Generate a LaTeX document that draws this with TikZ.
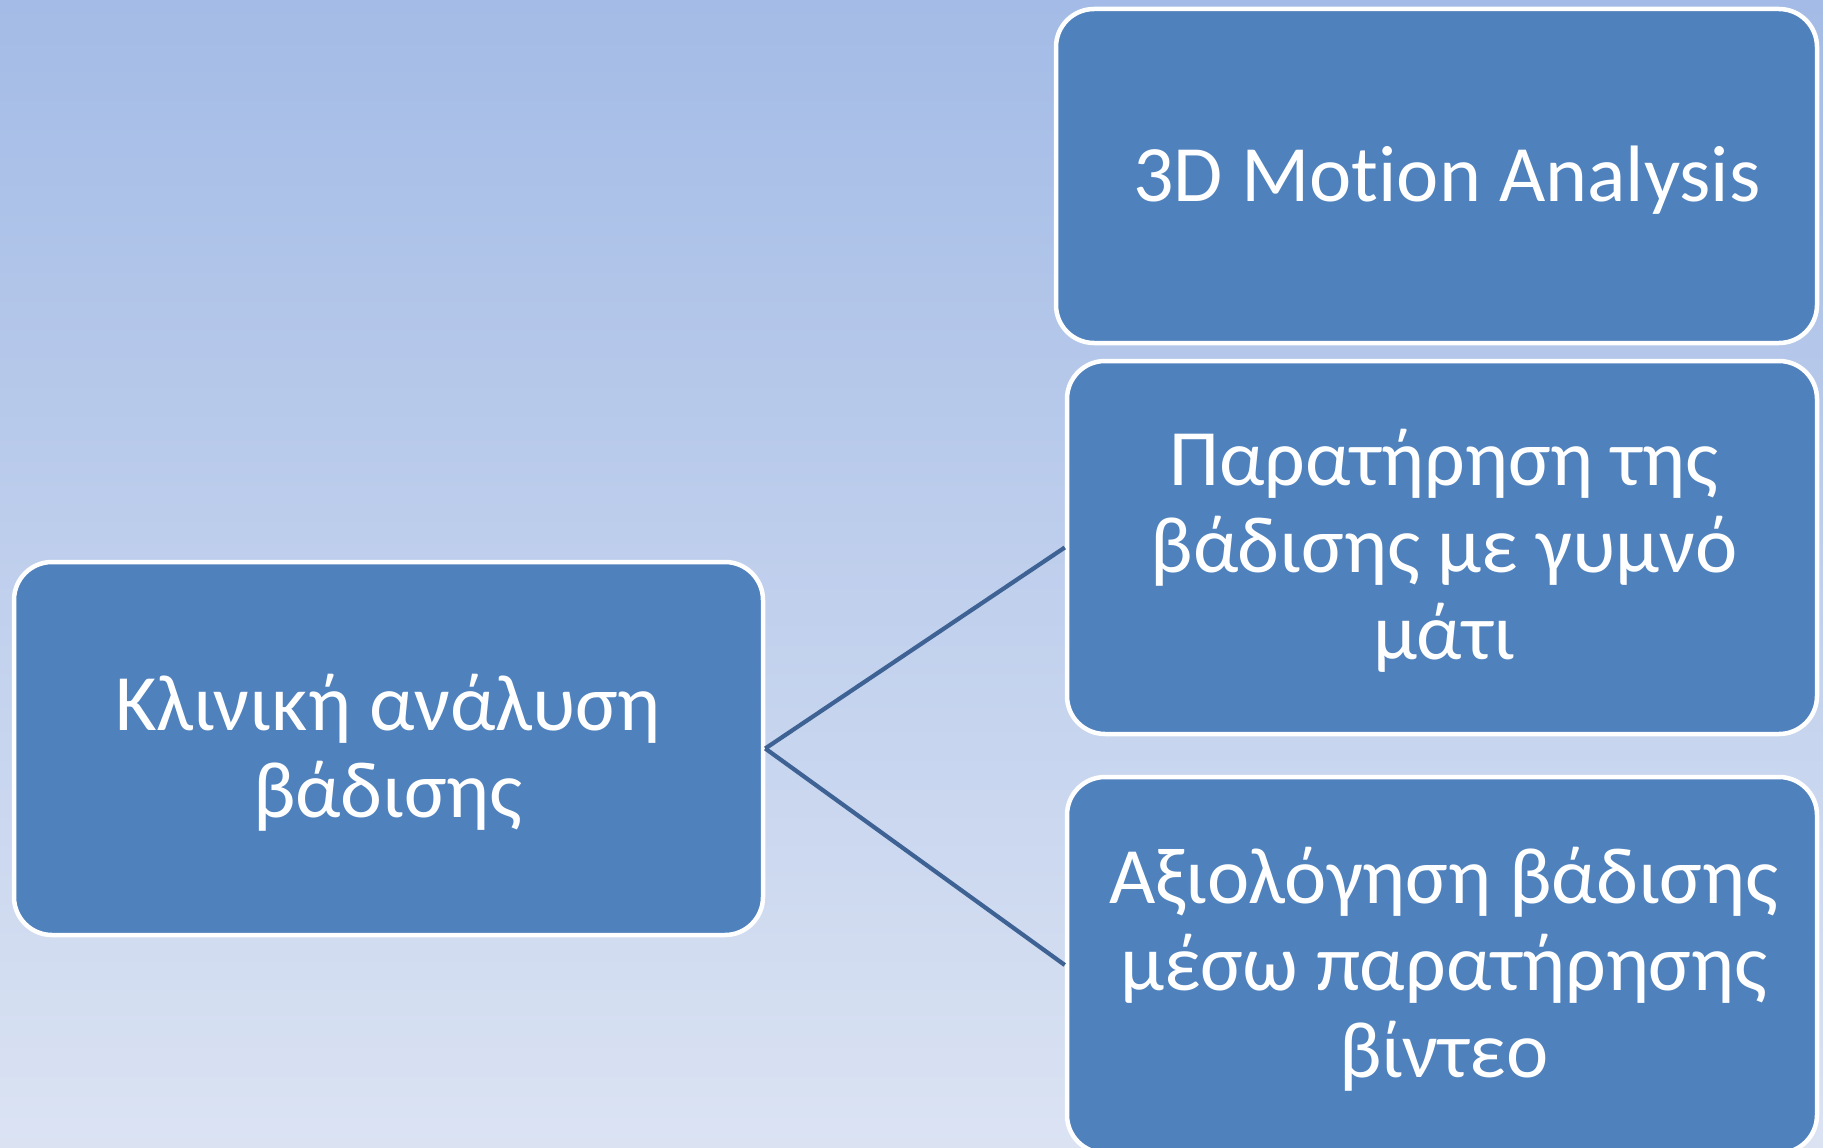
\documentclass[tikz,border=0pt]{standalone}
\usepackage{fontspec}
\setmainfont{Carlito}[Ligatures=NoCommon]
\definecolor{bgtop}{RGB}{163,187,230}
\definecolor{bgbot}{RGB}{219,227,243}
\definecolor{boxblue}{RGB}{79,129,189}
\definecolor{linkblue}{RGB}{62,98,148}
\tikzset{
  box/.style={draw=white, line width=4.5pt, fill=boxblue, rounded corners=38pt, inner sep=0pt},
  txt/.style={text=white, anchor=base, inner sep=0pt, font=\fontsize{80}{87}\selectfont},
  link/.style={draw=linkblue, line width=4.2pt}
}
\begin{document}
\begin{tikzpicture}[x=1pt,y=-1pt]
\useasboundingbox (0,0) rectangle (1823,1148);
\shade[top color=bgtop, bottom color=bgbot] (0,0) rectangle (1823,1148);
\clip (0,0) rectangle (1823,1148);
\node[box, minimum width=761pt, minimum height=334pt] (motion) at (1436.5,176) {};
\node[box, minimum width=750pt, minimum height=373pt] (naked) at (1442,547.5) {};
\node[box, minimum width=750pt, minimum height=376pt] (video) at (1442,965) {};
\node[box, minimum width=749pt, minimum height=373pt] (clin) at (388.5,748.5) {};
\draw[link] (clin.east) -- (naked.west);
\draw[link] (clin.east) -- (video.west);
\node[txt] (t1) at (1447,201) {3D Motion Analysis};
\node[txt] (t2a) at (1444,485) {Παρατήρηση της};
\node[txt] (t2b) at (1444,572) {βάδισης με γυμνό};
\node[txt] (t2c) at (1444,659) {μάτι};
\node[txt] (t3a) at (1444,903) {Αξιολόγηση βάδισης};
\node[txt] (t3b) at (1444,990) {μέσω παρατήρησης};
\node[txt] (t3c) at (1444,1077) {βίντεο};
\node[txt] (t4a) at (388,730) {Κλινική ανάλυση};
\node[txt] (t4b) at (388,817) {βάδισης};
\end{tikzpicture}
\end{document}
